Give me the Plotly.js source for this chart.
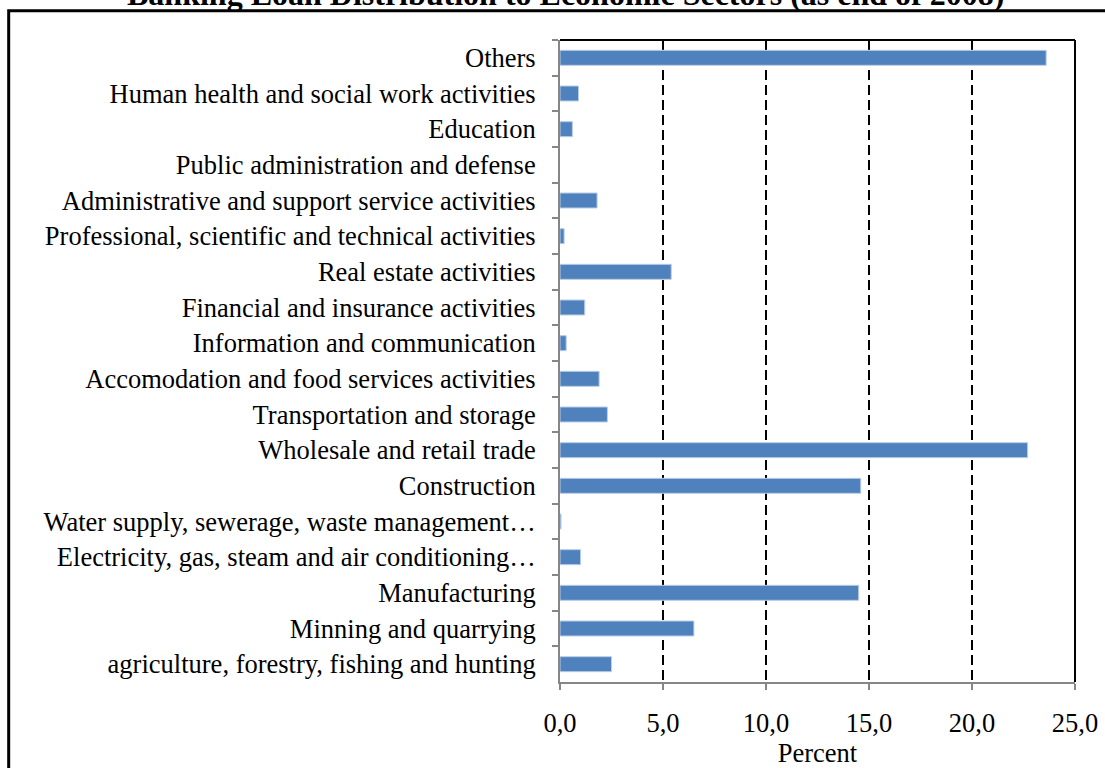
<!DOCTYPE html>
<html>
<head>
<meta charset="utf-8">
<script src="https://cdn.plot.ly/plotly-3.0.1.min.js"></script>
<style>
  html, body { margin: 0; padding: 0; background: #ffffff; }
  #chart { width: 1105px; height: 768px; }
</style>
</head>
<body>
<div id="chart"></div>
<script>
// Economic sectors, listed top to bottom
const sectors = [
  "Others",
  "Human health and social work activities",
  "Education",
  "Public administration and defense",
  "Administrative and support service activities",
  "Professional, scientific and technical activities",
  "Real estate activities",
  "Financial and insurance activities",
  "Information and communication",
  "Accomodation and food services activities",
  "Transportation and storage",
  "Wholesale and retail trade",
  "Construction",
  "Water supply, sewerage, waste management\u2026",
  "Electricity, gas, steam and air conditioning\u2026",
  "Manufacturing",
  "Minning and quarrying",
  "agriculture, forestry, fishing and hunting"
];

// Share of banking loans per sector (percent)
const loanShare = [
  23.6, 0.9, 0.6, 0.0, 1.8, 0.2, 5.4, 1.2, 0.3,
  1.9, 2.3, 22.7, 14.6, 0.05, 1.0, 14.5, 6.5, 2.5
];

const xTicks = [0, 5, 10, 15, 20, 25];

const serif = "Liberation Serif, Times New Roman, serif";
const axisGrey = "#868686";
const labelSize = 26.5;

const trace = {
  type: "bar",
  orientation: "h",
  x: loanShare,
  y: sectors,
  marker: {
    color: "#4f81bd",
    // no outline on empty bars so they stay invisible
    line: { color: "#b9cde5", width: loanShare.map(v => (v > 0 ? 1 : 0)) }
  },
  hoverinfo: "x+y"
};

const layout = {
  width: 1105,
  height: 768,
  margin: { l: 560, r: 30, t: 40, b: 86, pad: 0 },
  paper_bgcolor: "#ffffff",
  plot_bgcolor: "#ffffff",
  showlegend: false,
  bargap: 0.58,
  separators: ",.",
  font: { family: serif, color: "#000000", size: labelSize },
  xaxis: {
    range: [0, 25],
    tickvals: xTicks,
    tickformat: ".1f",
    ticks: "outside",
    ticklen: 6,
    tickwidth: 2,
    tickcolor: axisGrey,
    showline: true,
    linecolor: axisGrey,
    linewidth: 2,
    showgrid: true,
    gridcolor: "#000000",
    gridwidth: 2,
    griddash: "10px,5px",
    zeroline: false,
    ticklabelstandoff: 10,
    tickfont: { family: serif, size: labelSize, color: "#000000" },
    title: { text: "Percent", font: { family: serif, size: labelSize, color: "#000000" }, standoff: 6 },
    fixedrange: true
  },
  yaxis: {
    type: "category",
    categoryorder: "array",
    categoryarray: sectors,
    autorange: "reversed",
    tickson: "boundaries",
    ticks: "outside",
    ticklen: 6,
    tickwidth: 2,
    tickcolor: axisGrey,
    showline: true,
    linecolor: axisGrey,
    linewidth: 2,
    showgrid: false,
    zeroline: false,
    ticklabelstandoff: 17,
    tickfont: { family: serif, size: labelSize, color: "#000000" },
    fixedrange: true
  },
  shapes: [
    // top and right plot borders
    { type: "line", xref: "paper", yref: "paper", x0: 0, x1: 1, y0: 1, y1: 1,
      line: { color: "#000000", width: 2 } },
    { type: "line", xref: "paper", yref: "paper", x0: 1, x1: 1, y0: 0, y1: 1,
      line: { color: "#000000", width: 2 } },
    // outer chart frame
    { type: "rect", xref: "paper", yref: "paper", x0: -1.0705, x1: 1.2, y0: -0.3, y1: 1.0455,
      line: { color: "#000000", width: 3 }, fillcolor: "rgba(0,0,0,0)", layer: "above" }
  ],
  annotations: [
    { text: "<b>Banking Loan Distribution to Economic Sectors (as end of 2008)</b>",
      xref: "paper", yref: "paper", x: 0.0115, y: 1.041, xanchor: "center", yanchor: "bottom",
      showarrow: false, font: { family: serif, size: 32, color: "#000000" } }
  ]
};

Plotly.newPlot("chart", [trace], layout, { displayModeBar: false, staticPlot: true });
</script>
</body>
</html>
